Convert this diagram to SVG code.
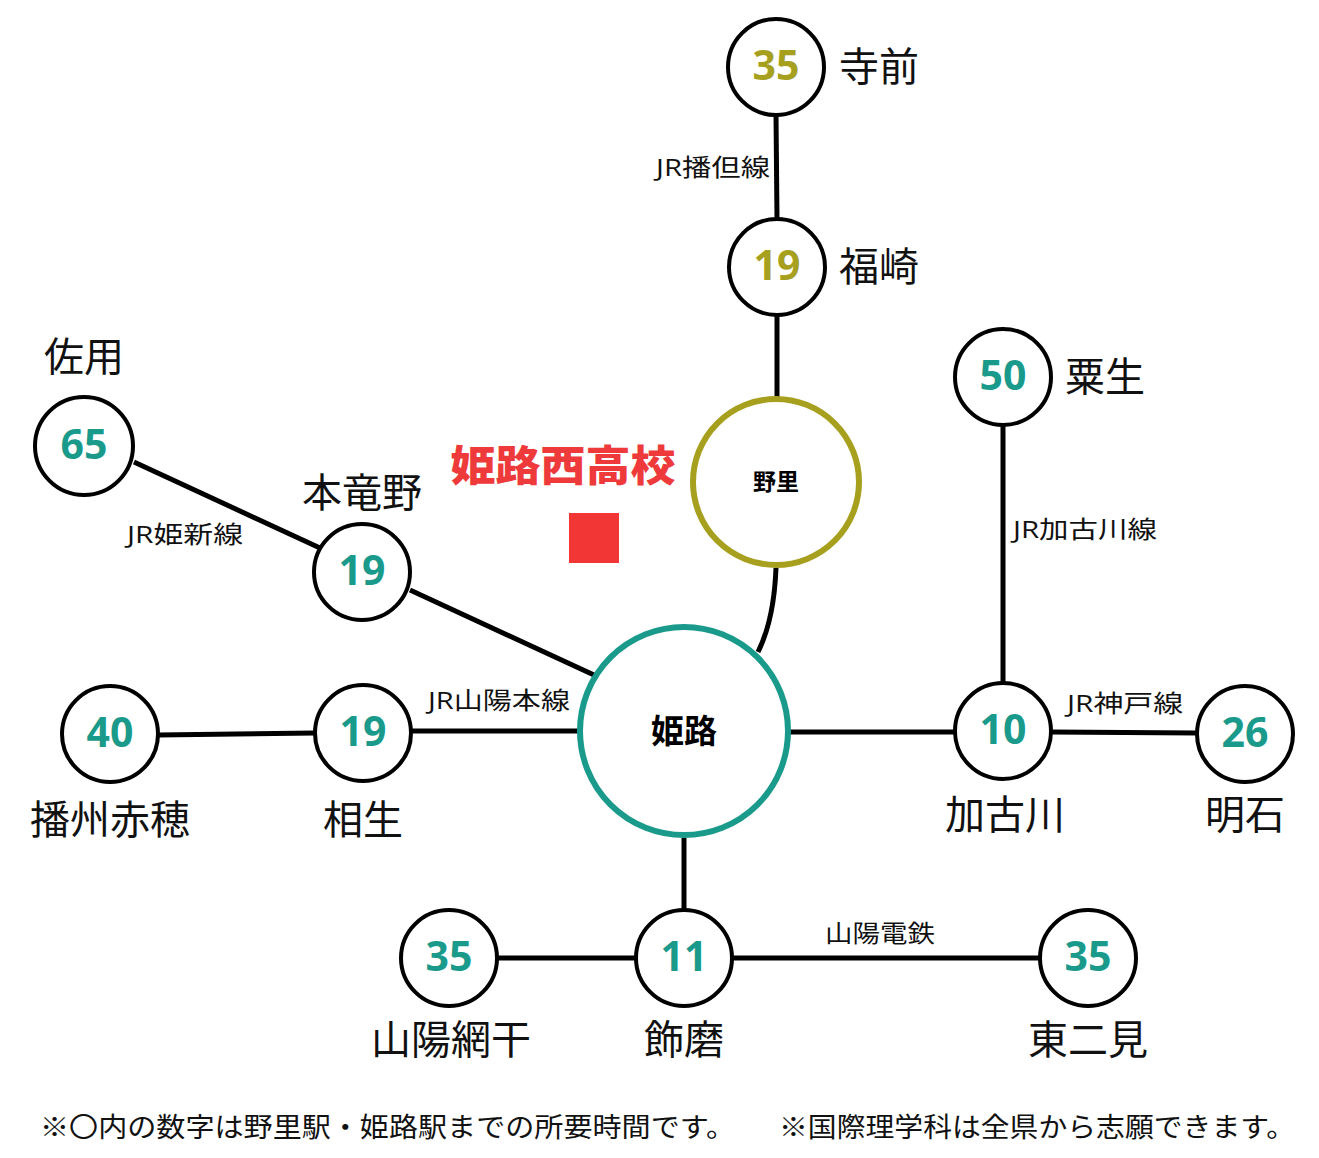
<svg xmlns="http://www.w3.org/2000/svg" width="1319" height="1158" viewBox="0 0 1319 1158">
<style>
.st{fill:#fff;stroke:#000;stroke-width:4}
.num{font-family:"Open Sans","Noto Sans",sans-serif;font-weight:700;font-size:41px;text-anchor:middle;dominant-baseline:central}
.ol{fill:#a7a01f}
.tl{fill:#1a9a8b}
.lbl{font-family:"Noto Sans CJK JP","Noto Sans",sans-serif;font-size:40px;fill:#111;dominant-baseline:central}
.ln{font-family:"Open Sans","Noto Sans CJK JP",sans-serif;font-size:24px;fill:#111;dominant-baseline:central}
.c{stroke:#000;stroke-width:5;fill:none}
.note{font-family:"Noto Sans CJK JP",sans-serif;font-size:27px;fill:#111;dominant-baseline:central}
</style>
<rect width="1319" height="1158" fill="#fff"/>
<g id="connectors">
<line class="c" x1="776" y1="115" x2="777" y2="219"/>
<line class="c" x1="777" y1="315" x2="777" y2="397"/>
<path class="c" d="M776,568 Q774,620 758,652"/>
<line class="c" x1="134" y1="462" x2="320" y2="548"/>
<line class="c" x1="410" y1="590" x2="594" y2="675"/>
<line class="c" x1="158" y1="735" x2="315" y2="733"/>
<line class="c" x1="411" y1="731" x2="580" y2="731"/>
<line class="c" x1="790" y1="732" x2="955" y2="732"/>
<line class="c" x1="1003" y1="425" x2="1003" y2="683"/>
<line class="c" x1="1051" y1="732" x2="1197" y2="733"/>
<line class="c" x1="684" y1="838" x2="684" y2="910"/>
<line class="c" x1="497" y1="958" x2="636" y2="958"/>
<line class="c" x1="732" y1="958" x2="1040" y2="958"/>
<text class="ln" x="713" y="166" text-anchor="middle" textLength="114" lengthAdjust="spacingAndGlyphs">JR播但線</text>
<text class="ln" x="185" y="533" text-anchor="middle" textLength="116" lengthAdjust="spacingAndGlyphs">JR姫新線</text>
<text class="ln" x="499" y="699" text-anchor="middle" textLength="142" lengthAdjust="spacingAndGlyphs">JR山陽本線</text>
<text class="ln" x="1085" y="528" text-anchor="middle" textLength="144" lengthAdjust="spacingAndGlyphs">JR加古川線</text>
<text class="ln" x="1125" y="702" text-anchor="middle" textLength="116" lengthAdjust="spacingAndGlyphs">JR神戸線</text>
<text class="ln" x="880" y="932" text-anchor="middle" textLength="110" lengthAdjust="spacingAndGlyphs">山陽電鉄</text>
</g>
<g id="teramae"><circle class="st" cx="776" cy="67" r="48"/><text class="num ol" x="776" y="64">35</text><text class="lbl" x="839" y="64">寺前</text></g>
<g id="fukusaki"><circle class="st" cx="777" cy="267" r="48"/><text class="num ol" x="777" y="264">19</text><text class="lbl" x="839" y="264">福崎</text></g>
<g id="nozato"><circle cx="776" cy="482" r="83" fill="#fff" stroke="#a7a01f" stroke-width="6"/><text x="776" y="480" font-family="Noto Sans CJK JP,sans-serif" font-weight="700" font-size="23" text-anchor="middle" dominant-baseline="central" fill="#000">野里</text></g>
<g id="himeji"><circle cx="684" cy="731" r="104" fill="#fff" stroke="#1a9a8b" stroke-width="6"/><text x="684" y="729" font-family="Noto Sans CJK JP,sans-serif" font-weight="700" font-size="33" text-anchor="middle" dominant-baseline="central" fill="#000">姫路</text></g>
<g id="sayo"><circle class="st" cx="84" cy="446" r="49"/><text class="num tl" x="84" y="443">65</text><text class="lbl" x="84" y="354" text-anchor="middle">佐用</text></g>
<g id="hontatsuno"><circle class="st" cx="362" cy="572" r="48"/><text class="num tl" x="362" y="569">19</text><text class="lbl" x="362" y="490" text-anchor="middle">本竜野</text></g>
<g id="banshuako"><circle class="st" cx="110" cy="734" r="48"/><text class="num tl" x="110" y="731">40</text><text class="lbl" x="110" y="817" text-anchor="middle">播州赤穂</text></g>
<g id="aioi"><circle class="st" cx="363" cy="733" r="48"/><text class="num tl" x="363" y="730">19</text><text class="lbl" x="363" y="817" text-anchor="middle">相生</text></g>
<g id="kakogawa"><circle class="st" cx="1003" cy="731" r="48"/><text class="num tl" x="1003" y="728">10</text><text class="lbl" x="1005" y="812" text-anchor="middle">加古川</text></g>
<g id="ao"><circle class="st" cx="1003" cy="377" r="48"/><text class="num tl" x="1003" y="374">50</text><text class="lbl" x="1065" y="374">粟生</text></g>
<g id="akashi"><circle class="st" cx="1245" cy="734" r="48"/><text class="num tl" x="1245" y="731">26</text><text class="lbl" x="1245" y="812" text-anchor="middle">明石</text></g>
<g id="shikama"><circle class="st" cx="684" cy="958" r="48"/><text class="num tl" x="684" y="955">11</text><text class="lbl" x="684" y="1037" text-anchor="middle">飾磨</text></g>
<g id="sanyoaboshi"><circle class="st" cx="449" cy="958" r="48"/><text class="num tl" x="449" y="955">35</text><text class="lbl" x="451" y="1037" text-anchor="middle">山陽網干</text></g>
<g id="higashifutami"><circle class="st" cx="1088" cy="958" r="48"/><text class="num tl" x="1088" y="955">35</text><text class="lbl" x="1088" y="1037" text-anchor="middle">東二見</text></g>
<g id="school"><text x="563" y="462" font-family="Noto Sans CJK JP,sans-serif" font-weight="900" font-size="42" fill="#ee3a3a" text-anchor="middle" dominant-baseline="central" textLength="225" lengthAdjust="spacingAndGlyphs">姫路西高校</text><rect x="569" y="513" width="50" height="50" fill="#f23535"/></g>
<g id="notes">
<text class="note" x="40" y="1125" textLength="695" lengthAdjust="spacingAndGlyphs">※〇内の数字は野里駅・姫路駅までの所要時間です。</text>
<text class="note" x="779" y="1125" textLength="516" lengthAdjust="spacingAndGlyphs">※国際理学科は全県から志願できます。</text>
</g>
</svg>
